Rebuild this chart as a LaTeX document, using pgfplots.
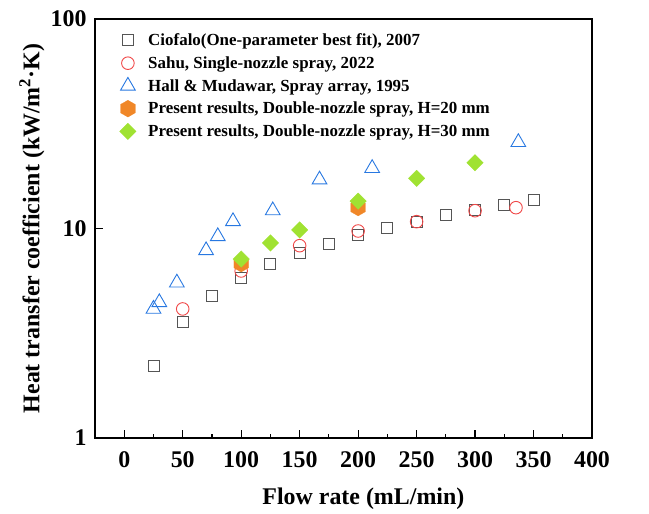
\documentclass[border=0pt]{standalone}
\usepackage{fontspec}
\setmainfont{Liberation Serif}
\usepackage{pgfplots}
\pgfplotsset{compat=1.18}
\definecolor{sqgray}{RGB}{85,85,85}
\definecolor{cred}{RGB}{240,70,70}
\definecolor{tblue}{RGB}{40,120,225}
\definecolor{horange}{RGB}{240,135,40}
\definecolor{dgreen}{RGB}{160,226,50}
\pgfdeclareplotmark{hexagon*}{%
  \pgfpathmoveto{\pgfqpointpolar{90}{\pgfplotmarksize}}%
  \pgfpathlineto{\pgfqpointpolar{150}{\pgfplotmarksize}}%
  \pgfpathlineto{\pgfqpointpolar{210}{\pgfplotmarksize}}%
  \pgfpathlineto{\pgfqpointpolar{270}{\pgfplotmarksize}}%
  \pgfpathlineto{\pgfqpointpolar{330}{\pgfplotmarksize}}%
  \pgfpathlineto{\pgfqpointpolar{30}{\pgfplotmarksize}}%
  \pgfpathclose
  \pgfusepathqfillstroke}
\begin{document}
\begin{tikzpicture}
\begin{semilogyaxis}[
  name=ax,
  scale only axis,
  width=497bp, height=419bp,
  xmin=-25, xmax=400,
  ymin=1, ymax=100,
  xtick={0,50,...,400},
  minor x tick num=1,
  ytick={1,10,100},
  yticklabels={1,10,100},
  log basis y=10,
  tick align=inside,
  xtick pos=bottom, ytick pos=left,
  major tick length=8bp, minor tick length=4bp,
  axis line style={line width=1.6bp},
  every tick/.style={black, line width=1.2bp},
  /pgf/number format/assume math mode=true,
  ticklabel style={font=\fontsize{24}{24}\selectfont\bfseries},
  xticklabel style={yshift=-10bp},
  yticklabel style={xshift=-5bp},
  label style={font=\fontsize{24}{24}\selectfont\bfseries},
  xlabel={Flow rate (mL/min)},
  ylabel={Heat transfer coefficient (kW/m\textsuperscript{2}·K)},
  xlabel style={at={(axis description cs:0.54,0)}, anchor=north, yshift=-46bp},
  ylabel style={at={(axis description cs:0,0.5)}, anchor=south, yshift=47bp},
  legend cell align=left,
  legend style={draw=none, fill=none, at={(axis description cs:0.043,0.975)}, anchor=north west,
    font=\fontsize{17}{17}\selectfont\bfseries, row sep=5.5bp,
    /tikz/every odd column/.append style={column sep=10bp}},
]
\addplot[only marks, mark=square, mark size=5.5bp, draw=sqgray, line width=0.9bp] coordinates {
(25,2.21) (50,3.57) (75,4.78) (100,5.79) (125,6.75) (150,7.67) (175,8.43) (200,9.28)
(225,10.05) (250,10.8) (275,11.6) (300,12.25) (325,12.95) (350,13.68)};
\addlegendentry{Ciofalo(One-parameter best fit), 2007}
\addplot[only marks, mark=o, mark size=6.3bp, draw=cred, line width=0.9bp] coordinates {
(50,4.13) (100,6.27) (150,8.28) (200,9.73) (250,10.78) (300,12.16) (335,12.57)};
\addlegendentry{Sahu, Single-nozzle spray, 2022}
\addplot[only marks, mark=triangle, mark size=8.5bp, draw=tblue, line width=0.9bp] coordinates {
(25,4.13) (30,4.44) (45,5.51) (70,7.86) (80,9.17) (93,10.82) (127,12.19) (167,17.1) (212,19.4) (337,25.8)};
\addlegendentry{Hall \& Mudawar, Spray array, 1995}
\addplot[only marks, mark=hexagon*, mark size=8.5bp, draw=horange, fill=horange, line width=0.1bp] coordinates {
(100,6.8) (200,12.6)};
\addlegendentry{Present results, Double-nozzle spray, H=20 mm}
\addplot[only marks, mark=square*, mark size=5.9bp, draw=dgreen, fill=dgreen, line width=0.1bp,
  every mark/.append style={rotate=45}] coordinates {
(100,7.15) (125,8.53) (150,9.84) (200,13.5) (250,17.35) (300,20.6)};
\addlegendentry{Present results, Double-nozzle spray, H=30 mm}
\end{semilogyaxis}
\path ([shift={(-95bp,-76bp)}]ax.south west) rectangle ([shift={(57bp,19bp)}]ax.north east);
\end{tikzpicture}
\end{document}
